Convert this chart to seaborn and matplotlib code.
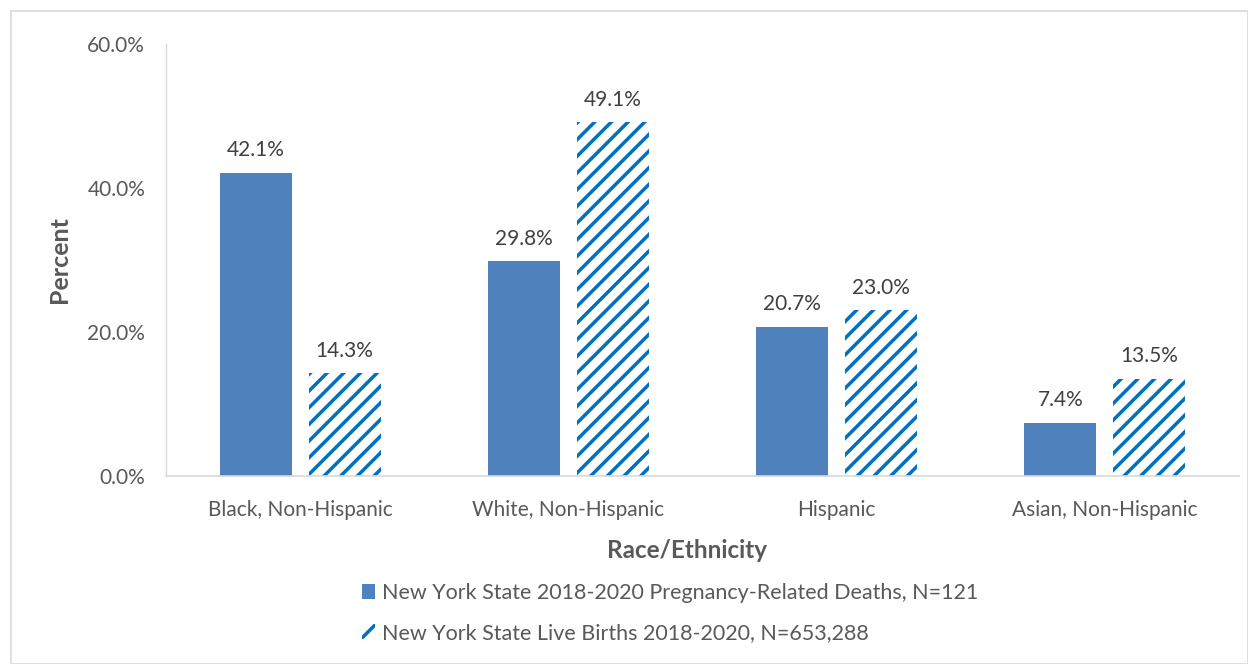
import matplotlib
matplotlib.use("Agg")
from matplotlib import pyplot as plt
from matplotlib.patches import Rectangle, Patch
import pandas as pd
import seaborn as sns

categories = ["Black, Non-Hispanic", "White, Non-Hispanic", "Hispanic", "Asian, Non-Hispanic"]
deaths = [42.1, 29.8, 20.7, 7.4]
births = [14.3, 49.1, 23.0, 13.5]
series_names = ["New York State 2018-2020 Pregnancy-Related Deaths, N=121",
                "New York State Live Births 2018-2020, N=653,288"]
y_ticks = [0, 20, 40, 60]

df = pd.DataFrame({
    "Race/Ethnicity": categories * 2,
    "Percent": deaths + births,
    "Series": [series_names[0]] * 4 + [series_names[1]] * 4,
})

sns.set_theme(style="white")
plt.rcParams['font.family'] = ['Lato', 'DejaVu Sans']
plt.rcParams['hatch.linewidth'] = 2.5
plt.rcParams['hatch.color'] = '#0070C0'

solid = '#4F81BD'
stripe = '#0070C0'
txt = '#595959'

fig = plt.figure(figsize=(12.48, 6.64), dpi=100)
ax = fig.add_axes([166/1248, 1 - 476/664, (1239-166)/1248, (476-44)/664])

sns.barplot(data=df, x="Race/Ethnicity", y="Percent", hue="Series",
            palette=[solid, 'white'], width=0.664, gap=0.19,
            errorbar=None, ax=ax, legend=False, saturation=1)

n = len(categories)
for i, p in enumerate(ax.patches[:2*n]):
    if i < n:
        p.set_linewidth(0)
    else:
        p.set_facecolor('white')
        p.set_edgecolor(stripe)
        p.set_hatch('//')
        p.set_linewidth(0)

for cont in ax.containers:
    ax.bar_label(cont, labels=[f"{v:.1f}%" for v in cont.datavalues],
                 padding=9, fontsize=15, color='#404040')

ax.set_ylim(0, 60)
ax.set_xlim(-0.5, n - 0.5)
ax.set_yticks(y_ticks)
ax.set_yticklabels([f"{t:.1f}%" for t in y_ticks])
ax.tick_params(axis='both', length=0, labelsize=15, labelcolor=txt)
ax.tick_params(axis='x', pad=17)
ax.tick_params(axis='y', pad=15)
for s in ['top', 'right']:
    ax.spines[s].set_visible(False)
ax.spines['left'].set_color('#D9D9D9')
ax.spines['bottom'].set_color('#D9D9D9')
ax.spines['left'].set_linewidth(1)
ax.spines['bottom'].set_linewidth(1.2)

ax.set_xlabel("Race/Ethnicity", fontsize=17.5, fontweight='bold', color=txt)
ax.xaxis.set_label_coords((687 - 166) / (1239 - 166), -(550 - 476) / (476 - 44))
ax.xaxis.label.set_va('center')
ax.set_ylabel("Percent", fontsize=18, fontweight='bold', color=txt, labelpad=12)

handles = [Patch(facecolor=solid, linewidth=0),
           Patch(facecolor='white', edgecolor=stripe, hatch='//', linewidth=0)]
leg = fig.legend(handles, series_names, loc='center', bbox_to_anchor=(670/1248, 1 - 613/664),
                 ncol=1, frameon=False, fontsize=15.5, handlelength=0.6, handleheight=0.7,
                 handletextpad=0.3, labelspacing=0.95)
for t in leg.get_texts():
    t.set_color(txt)

fig.patches.append(Rectangle((11/1248, 0), 1 - 11/1248, 1 - 11/664, transform=fig.transFigure,
                             fill=False, edgecolor='#D9D9D9', linewidth=1.2))

fig.savefig("out.png", dpi=100)
